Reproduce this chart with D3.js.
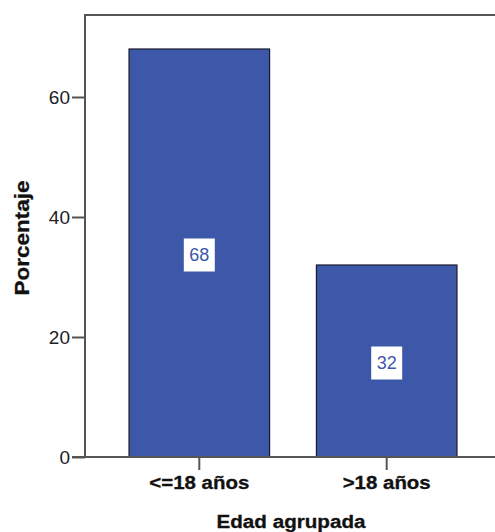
<!DOCTYPE html>
<html>
<head>
<meta charset="utf-8">
<script src="https://cdn.jsdelivr.net/npm/d3@7"></script>
<style>
  html, body { margin: 0; padding: 0; background: #fff; }
  svg { display: block; font-family: "Liberation Sans", Arial, sans-serif; }
</style>
</head>
<body>
<svg id="chart" width="495" height="532"></svg>
<script>
// Grouped age distribution (percent of cases)
const categories = ["<=18 años", ">18 años"];
const percentages = [68, 32];
const yTicks = [0, 20, 40, 60];
const yTitle = "Porcentaje";
const xTitle = "Edad agrupada";

const svg = d3.select("#chart");
const W = 495;
const plotLeft = 85, plotTop = 15, plotBottom = 457, plotRight = 501;
const barColor = "#3d57a9";
const axisColor = "#555";
const textColor = "#111";

// rendered widths of the wide bold labels
const catLabelWidth = { "<=18 años": 100, ">18 años": 88 };

const x = d3.scaleBand()
  .domain(categories)
  .range([plotLeft, plotRight])
  .paddingInner(0.25)
  .paddingOuter(0.235);

const y = d3.scaleLinear()
  .domain([0, (plotBottom - plotTop) / 6])
  .range([plotBottom, plotTop]);

// frame: top edge
svg.append("line")
  .attr("x1", plotLeft).attr("x2", W)
  .attr("y1", plotTop).attr("y2", plotTop)
  .attr("stroke", axisColor).attr("stroke-width", 2);

// bars
svg.append("g").selectAll("rect")
  .data(percentages)
  .join("rect")
  .attr("x", (d, i) => x(categories[i]))
  .attr("width", x.bandwidth())
  .attr("y", d => y(d))
  .attr("height", d => y(0) - y(d))
  .attr("fill", barColor)
  .attr("stroke", "#1a1a2a")
  .attr("stroke-width", 1.2);

// value labels inside bars
const lab = svg.append("g").selectAll("g")
  .data(percentages)
  .join("g")
  .attr("transform", (d, i) =>
    `translate(${x(categories[i]) + x.bandwidth() / 2},${(y(d) + y(0)) / 2 + 2})`);
lab.append("rect")
  .attr("x", -15.5).attr("y", -16.5)
  .attr("width", 31).attr("height", 33)
  .attr("fill", "#fff");
lab.append("text")
  .attr("text-anchor", "middle")
  .attr("dy", "0.36em")
  .attr("font-size", 18)
  .attr("fill", barColor)
  .text(d => d);

// y axis
const gy = svg.append("g")
  .attr("transform", `translate(${plotLeft},0)`)
  .call(d3.axisLeft(y).tickValues(yTicks).tickSize(13).tickSizeOuter(0).tickPadding(2));
gy.select(".domain").remove();
gy.selectAll(".tick line").attr("stroke", axisColor).attr("stroke-width", 2);
gy.selectAll(".tick text")
  .attr("font-size", 19)
  .attr("font-family", "Liberation Sans, Arial, sans-serif")
  .attr("fill", "#222");
svg.append("line")
  .attr("x1", plotLeft).attr("x2", plotLeft)
  .attr("y1", plotTop - 1).attr("y2", plotBottom)
  .attr("stroke", axisColor).attr("stroke-width", 2);

// x axis
const gx = svg.append("g")
  .attr("transform", `translate(0,${plotBottom})`)
  .call(d3.axisBottom(x).tickSize(13).tickSizeOuter(0).tickPadding(6));
gx.select(".domain").remove();
gx.selectAll(".tick line").attr("stroke", axisColor).attr("stroke-width", 2);
gx.selectAll(".tick text")
  .attr("font-size", 18)
  .attr("font-weight", "bold")
  .attr("font-family", "Liberation Sans, Arial, sans-serif")
  .attr("fill", textColor)
  .attr("stroke", textColor)
  .attr("stroke-width", 0.3)
  .attr("textLength", d => catLabelWidth[d])
  .attr("lengthAdjust", "spacingAndGlyphs");
svg.append("line")
  .attr("x1", plotLeft - 13).attr("x2", W)
  .attr("y1", plotBottom).attr("y2", plotBottom)
  .attr("stroke", axisColor).attr("stroke-width", 2);

// axis titles
svg.append("text")
  .attr("x", 291)
  .attr("y", 528)
  .attr("text-anchor", "middle")
  .attr("font-size", 18)
  .attr("font-weight", "bold")
  .attr("fill", textColor)
  .attr("stroke", textColor)
  .attr("stroke-width", 0.3)
  .attr("textLength", 149)
  .attr("lengthAdjust", "spacingAndGlyphs")
  .text(xTitle);

svg.append("text")
  .attr("transform", `translate(29,238) rotate(-90)`)
  .attr("text-anchor", "middle")
  .attr("font-size", 20)
  .attr("font-weight", "bold")
  .attr("fill", textColor)
  .attr("stroke", textColor)
  .attr("stroke-width", 0.3)
  .attr("textLength", 115)
  .attr("lengthAdjust", "spacingAndGlyphs")
  .text(yTitle);
</script>
</body>
</html>
